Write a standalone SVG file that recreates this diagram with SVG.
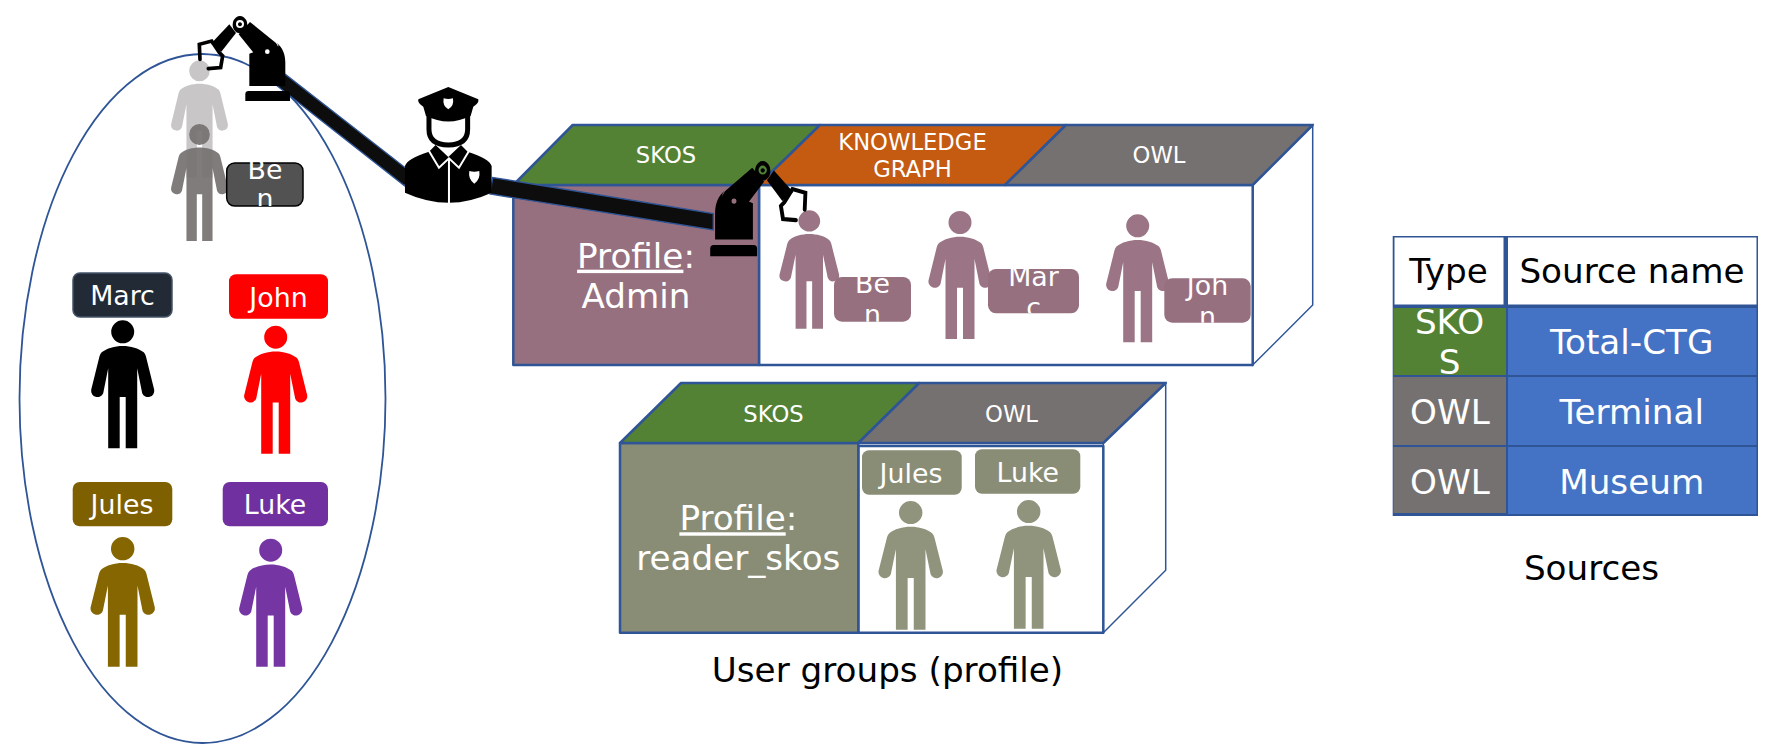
<svg xmlns="http://www.w3.org/2000/svg" xmlns:xlink="http://www.w3.org/1999/xlink" width="1786" height="755" viewBox="0 0 1786 755">
<style>
text{font-family:"DejaVu Sans","Liberation Sans",sans-serif;text-anchor:middle;fill:#fff}
.t25{font-size:26.8px}.t21{font-size:22.7px}.t33{font-size:34.2px}
.k{fill:#000}
.edge{stroke:#2f5597;stroke-width:2.5;stroke-linejoin:round}
.thin{stroke:#2f5597;stroke-width:1.5;fill:#fff}
.bar{fill:#0d0d0d;stroke:#2f5597;stroke-width:1.4}
.u{text-decoration:underline}
</style>
<defs>
<path id="person" d="M0 25.7C8 25.7 16 28 21 32Q22.5 33.5 23.2 36L31.5 69.5A6.3 6.3 0 0 1 19.5 73L14.5 48V128H3V76.7H-3V128H-14.5V48L-19.5 73A6.3 6.3 0 0 1-31.5 69.5L-23.2 36Q-22.5 33.5-21 32C-16 28-8 25.7 0 25.7ZM0 0A11.5 11.5 0 1 1 0 23A11.5 11.5 0 1 1 0 0Z"/>
<g id="robot">
<path d="M358 255V158L374 152A38 38 0 0 0 445 133L440 125C458 140 466 160 466 185V255Z"/>
<path d="M346 300V280Q346 270 356 270H470Q480 270 480 280V300Z"/>
<path fill-rule="evenodd" d="M360 63L438 126A32 32 0 0 1 384 172L326 100ZM412 145A7 7 0 1 0 412 159A7 7 0 1 0 412 145Z"/>
<path fill-rule="evenodd" d="M330 45A22 26 0 1 1 329.900 45ZM330 57A12 12 0 1 0 330 81A12 12 0 1 0 330 57ZM330 64A6 6 0 1 1 329.900 64Z"/>
<path d="M298 70L318 96L274 152L243 128Z"/>
<path d="M210 175L208 130L245 120L268 155L278 165L272 200L235 203" fill="none" stroke="#000" stroke-width="11" stroke-linecap="round" stroke-linejoin="miter"/>
</g>
<clipPath id="c1"><rect x="220" y="150" width="90" height="55"/></clipPath>
<clipPath id="c2"><rect x="834" y="260" width="77" height="60.700"/></clipPath>
<clipPath id="c3"><rect x="988" y="255" width="91" height="57.300"/></clipPath>
<clipPath id="c4"><rect x="1164" y="265" width="87" height="56.700"/></clipPath>
<clipPath id="c5"><rect x="1393" y="305" width="113" height="69.500"/></clipPath>
</defs>
<g transform="translate(0,1)">
<ellipse id="population" cx="202.500" cy="397.500" rx="183" ry="344.500" fill="#fff" stroke="#2f5597" stroke-width="1.800"/>

<g id="cube-admin">
<polygon class="thin" points="1252.700,184 1312.700,124 1312.700,304 1252.700,364"/>
<rect x="759" y="184" width="493.700" height="180" fill="#fff" class="edge"/>
<rect x="513.300" y="184" width="245.700" height="180" fill="#97707f" class="edge"/>
<polygon class="edge" fill="#548235" points="513.300,184 572.700,124 820,124 758.500,184"/>
<polygon class="edge" fill="#c55a11" points="758.500,184 820,124 1066,124 1005,184"/>
<polygon class="edge" fill="#767171" points="1005,184 1066,124 1312.700,124 1252.700,184"/>
<text class="t21" x="666" y="161.700">SKOS</text>
<text class="t21" x="912.500" y="149">KNOWLEDGE</text>
<text class="t21" x="912.500" y="176">GRAPH</text>
<text class="t21" x="1159" y="161.700">OWL</text>
<text class="t33" x="636" y="266.700"><tspan class="u">Profile</tspan>:</text>
<text class="t33" x="636" y="306.700">Admin</text>
</g>

<g id="cube-reader">
<polygon class="thin" points="1103.300,442 1165.700,382 1165.700,569.300 1103.300,631.700"/>
<rect x="858.300" y="445" width="245" height="186.700" fill="#fff" class="edge"/>
<rect x="620" y="442" width="238.300" height="189.700" fill="#8a8d75" class="edge"/>
<polygon class="edge" fill="#548235" points="620,442 681,382 919.300,382 858.300,442"/>
<polygon class="edge" fill="#767171" points="858.300,442 919.300,382 1165.700,382 1103.300,442"/>
<text class="t21" x="773.500" y="420.700">SKOS</text>
<text class="t21" x="1011.500" y="420.700">OWL</text>
<text class="t33" x="738.300" y="529.300"><tspan class="u">Profile</tspan>:</text>
<text class="t33" x="738.300" y="569">reader_skos</text>
</g>

<g id="connectors">
<polygon class="bar" points="276,84 285.500,73.500 413,172.800 404.500,184.700"/>
<polygon class="bar" points="492.700,176.500 490,193 713.300,229 713.300,212.500"/>
</g>

<g id="ben-ghost"><use xlink:href="#person" href="#person" fill="#767171" opacity=".4" transform="translate(199.500,59.300) scale(.9,.915)"/></g>
<g id="ben-dark">
<use xlink:href="#person" href="#person" fill="#767171" opacity=".92" transform="translate(199.500,123) scale(.9,.915)"/>
<rect x="226.700" y="162" width="76.300" height="43" rx="8" fill="#525252" stroke="#000" stroke-width="1.500"/>
<g clip-path="url(#c1)"><text class="t25" x="265" y="177.700">Be</text><text class="t25" x="265" y="207">n</text></g>
</g>
<g id="marc">
<rect x="73" y="272" width="99" height="44" rx="7" fill="#222a35" stroke="#44546a" stroke-width="1.500"/>
<text class="t25" x="122.500" y="304">Marc</text>
<use xlink:href="#person" href="#person" fill="#000" transform="translate(122.700,319.300)"/>
</g>
<g id="john">
<rect x="229" y="273.300" width="99" height="44.400" rx="7" fill="#f00"/>
<text class="t25" x="278.500" y="306">John</text>
<use xlink:href="#person" href="#person" fill="#f00" transform="translate(275.700,324.700)"/>
</g>
<g id="jules">
<rect x="72.700" y="481" width="99.600" height="44.300" rx="7" fill="#7f6000"/>
<text class="t25" x="122" y="513.300">Jules</text>
<use xlink:href="#person" href="#person" fill="#856600" transform="translate(122.700,536) scale(1.02,1.013)"/>
</g>
<g id="luke">
<rect x="222.700" y="481" width="105.300" height="44.300" rx="7" fill="#7030a0"/>
<text class="t25" x="275" y="513.300">Luke</text>
<use xlink:href="#person" href="#person" fill="#7535a3" transform="translate(270.700,537.700)"/>
</g>

<g id="admin-ben">
<use xlink:href="#person" href="#person" fill="#9b7585" transform="translate(809.300,209.300) scale(.945,.925)"/>
<rect x="834" y="276" width="77" height="44.700" rx="8" fill="#97707f"/>
<g clip-path="url(#c2)"><text class="t25" x="872.500" y="292.300">Be</text><text class="t25" x="872.500" y="323">n</text></g>
</g>
<g id="admin-marc">
<use xlink:href="#person" href="#person" fill="#9b7585" transform="translate(960,210)"/>
<rect x="988" y="268" width="91" height="44.300" rx="8" fill="#97707f"/>
<g clip-path="url(#c3)"><text class="t25" x="1033.500" y="285">Mar</text><text class="t25" x="1033.500" y="315.500">c</text></g>
</g>
<g id="admin-john">
<use xlink:href="#person" href="#person" fill="#9b7585" transform="translate(1137.700,213.300)"/>
<rect x="1164.300" y="277.300" width="86.400" height="44.400" rx="8" fill="#97707f"/>
<g clip-path="url(#c4)"><text class="t25" x="1207.500" y="294">Joh</text><text class="t25" x="1207.500" y="324.500">n</text></g>
</g>
<g id="reader-jules">
<rect x="862" y="449.300" width="99.700" height="44.400" rx="7" fill="#8a8d75"/>
<text class="t25" x="911" y="481.700">Jules</text>
<use xlink:href="#person" href="#person" fill="#90947d" transform="translate(910.700,500) scale(1.02,1.005)"/>
</g>
<g id="reader-luke">
<rect x="975" y="448.300" width="105.300" height="44.400" rx="7" fill="#8a8d75"/>
<text class="t25" x="1027.700" y="480.700">Luke</text>
<use xlink:href="#person" href="#person" fill="#90947d" transform="translate(1028.700,499) scale(1.02,1.005)"/>
</g>

<g id="robot-top"><use xlink:href="#robot" href="#robot" transform="translate(130,0) scale(.3333)"/></g>
<g id="robot-admin"><use xlink:href="#robot" href="#robot" transform="matrix(-.35 0 0 .3733 878.200 143.300)"/></g>

<g id="police" transform="translate(130,0) scale(.3333)">
<path class="k" d="M955 258L1045 295Q1048 307 1030 317L1022 345Q955 378 888 345L880 317Q862 307 865 295Z"/>
<path fill="#fff" d="M941 292Q955 296 969 292Q973 315 955 325Q937 315 941 292Z"/>
<path d="M897 345V385Q897 432 955 432Q1013 432 1013 385V345" fill="none" stroke="#000" stroke-width="15"/>
<path class="k" d="M825 575V495Q832 472 897 452L917 432L955 468L993 432L1013 452Q1078 472 1085 495V575Q1020 605 957 605Q890 605 825 575Z"/>
<path d="M897 450L927 500L957 472L987 500L1017 450M957 472V606" fill="none" stroke="#fff" stroke-width="6"/>
<path fill="#fff" d="M1018 510Q1033 514 1048 510Q1052 535 1033 548Q1014 535 1018 510Z"/>
</g>

<g id="sources-table">
<rect x="1392.700" y="235" width="365.300" height="280" fill="#2f5597"/>
<rect x="1394.500" y="236.500" width="109" height="67" fill="#fff"/>
<rect x="1508" y="236.500" width="248.500" height="67" fill="#fff"/>
<rect x="1393.500" y="307" width="112.500" height="67" fill="#548235"/>
<rect x="1393.500" y="376" width="112.500" height="68" fill="#767171"/>
<rect x="1393.500" y="446" width="112.500" height="66" fill="#767171"/>
<rect x="1508" y="307" width="248.500" height="67" fill="#4472c4"/>
<rect x="1508" y="376" width="248.500" height="68" fill="#4472c4"/>
<rect x="1508" y="446" width="248.500" height="67" fill="#4472c4"/>
<text class="t33" x="1448.500" y="282.300" style="fill:#000">Type</text>
<text class="t33" x="1632" y="282.300" style="fill:#000">Source name</text>
<g clip-path="url(#c5)"><text class="t33" x="1449.500" y="333.300">SKO</text><text class="t33" x="1449.500" y="372.700">S</text></g>
<text class="t33" x="1450" y="422.700">OWL</text>
<text class="t33" x="1450" y="492.700">OWL</text>
<text class="t33" x="1631.700" y="353.300">Total-CTG</text>
<text class="t33" x="1631.700" y="422.700">Terminal</text>
<text class="t33" x="1631.700" y="492.700">Museum</text>
</g>
<text id="caption-sources" class="t33" x="1591.500" y="578.500" style="fill:#000">Sources</text>
<text id="caption-groups" class="t33" x="887.500" y="680.500" style="fill:#000">User groups (profile)</text>
</g>
</svg>
